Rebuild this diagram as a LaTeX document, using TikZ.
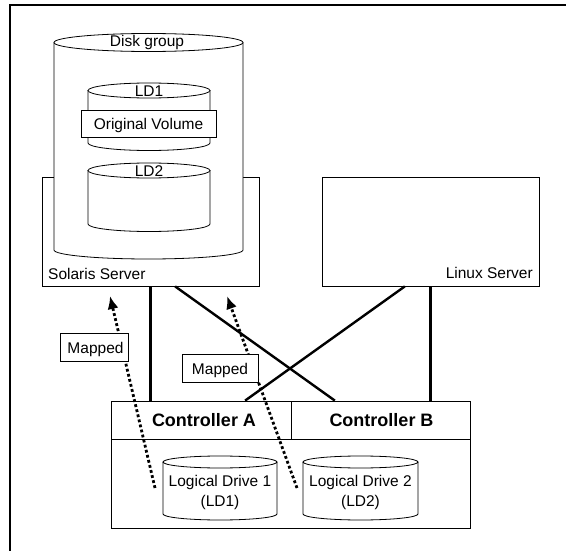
\documentclass[tikz,border=0pt]{standalone}
\usepackage{fontspec}
\setmainfont{Liberation Sans}
\usetikzlibrary{calc,arrows.meta}

\tikzset{
  box/.style={draw, fill=white, line width=0.8pt, inner sep=0pt},
  lbl/.style={font=\fontsize{15.5}{18}\selectfont, inner sep=0pt},
  ctl/.style={font=\fontsize{18}{20}\selectfont\bfseries, inner sep=0pt},
  link/.style={line width=2.4pt},
  mapline/.style={line width=2.8pt, dash pattern=on 2.8pt off 2.4pt,
    -{Latex[length=13pt,width=11pt]}},
}

% 圆柱：名字, cx, 顶面 y, 底面 y, 半宽, 椭圆半高
\newcommand{\drum}[6]{%
  \fill[white] (#2-#5,#3) -- (#2-#5,#4)
    arc[start angle=180, end angle=360, x radius=#5pt, y radius=#6pt] -- (#2+#5,#3) -- cycle;
  \fill[white] (#2,#3) ellipse[x radius=#5pt, y radius=#6pt];
  \draw[line width=0.8pt] (#2,#3) ellipse[x radius=#5pt, y radius=#6pt];
  \draw[line width=0.8pt] (#2-#5,#3) -- (#2-#5,#4)
    arc[start angle=180, end angle=360, x radius=#5pt, y radius=#6pt] -- (#2+#5,#3);
  \coordinate (#1) at (#2,#3);
}

\begin{document}
\begin{tikzpicture}[x=1pt, y=-1pt, line cap=butt, line join=miter]
  \useasboundingbox (0,0) rectangle (566,551);

  % 外框（只露出左边和上边）
  \draw[line width=1.2pt] (10,551) -- (10,5) -- (566,5);

  % 两台服务器
  \node[box, minimum width=217pt, minimum height=109pt] (sol) at (150.5,231.5) {};
  \node[box, minimum width=217pt, minimum height=109pt] (lin) at (430.5,231.5) {};
  \node[lbl, anchor=base west] (solname) at (48,279) {Solaris Server};
  \node[lbl, anchor=base east] (linname) at (533,278) {Linux Server};

  % 磁盘组及其中的 LD1 / LD2（盖住服务器框的上边）
  \drum{dg}{148.5}{42.5}{250}{94.5}{9}
  \drum{ld1}{149}{90.5}{143}{61}{7.5}
  \drum{ld2}{149}{170.5}{224}{61}{7.5}
  \node[lbl, anchor=base] (dgname) at (147,47) {Disk group};
  \node[lbl, anchor=base] (ld1name) at (149,97) {LD1};
  \node[lbl, anchor=base] (ld2name) at (149,177) {LD2};
  \node[box, minimum width=135pt, minimum height=27pt] (orig) at (148.5,123.5) {};
  \node[lbl, anchor=base] (origname) at (148.5,129.5) {Original Volume};

  % 控制器
  \node[box, minimum width=359pt, minimum height=127pt] (ctl) at (290.5,464.5) {};
  \node[box, minimum width=180pt, minimum height=38pt] (ctlA) at (201,420) {};
  \node[box, minimum width=179pt, minimum height=38pt] (ctlB) at (380.5,420) {};
  \node[ctl] (ctlAname) at (204,420) {Controller A};
  \node[ctl] (ctlBname) at (381.5,420) {Controller B};

  % 控制器下的两个逻辑盘
  \drum{dr1}{220}{462}{514}{57}{6}
  \drum{dr2}{360.5}{462}{514}{57.5}{6}
  \node[lbl, align=center] (dr1name) at (220,492) {Logical Drive 1\\[2pt](LD1)};
  \node[lbl, align=center] (dr2name) at (360.5,492) {Logical Drive 2\\[2pt](LD2)};

  % 服务器到控制器的连线
  \draw[link] (sol.south) -- (sol.south |- ctlA.north);
  \draw[link] ($(sol.south west)!0.613!(sol.south east)$) -- ($(ctlB.north west)!0.246!(ctlB.north east)$);
  \draw[link] ($(lin.south west)!0.382!(lin.south east)$) -- ($(ctlA.north west)!0.744!(ctlA.north east)$);
  \draw[link] (lin.south) -- (lin.south |- ctlB.north);

  % 映射（点线箭头），Mapped 框盖在线上
  \coordinate (m1s) at (155,488);
  \coordinate (m1e) at (110,296);
  \coordinate (m2s) at (297,488);
  \coordinate (m2e) at (227,296);
  \draw[mapline] (m1s) -- (m1e);
  \draw[mapline] (m2s) -- (m2e);
  \node[box, minimum width=68pt, minimum height=28pt] (map1) at (94,347) {};
  \node[lbl, anchor=base] (map1name) at (95.5,353) {Mapped};
  \node[box, minimum width=76pt, minimum height=28pt] (map2) at (220,368) {};
  \node[lbl, anchor=base] (map2name) at (220,374) {Mapped};
\end{tikzpicture}
\end{document}
